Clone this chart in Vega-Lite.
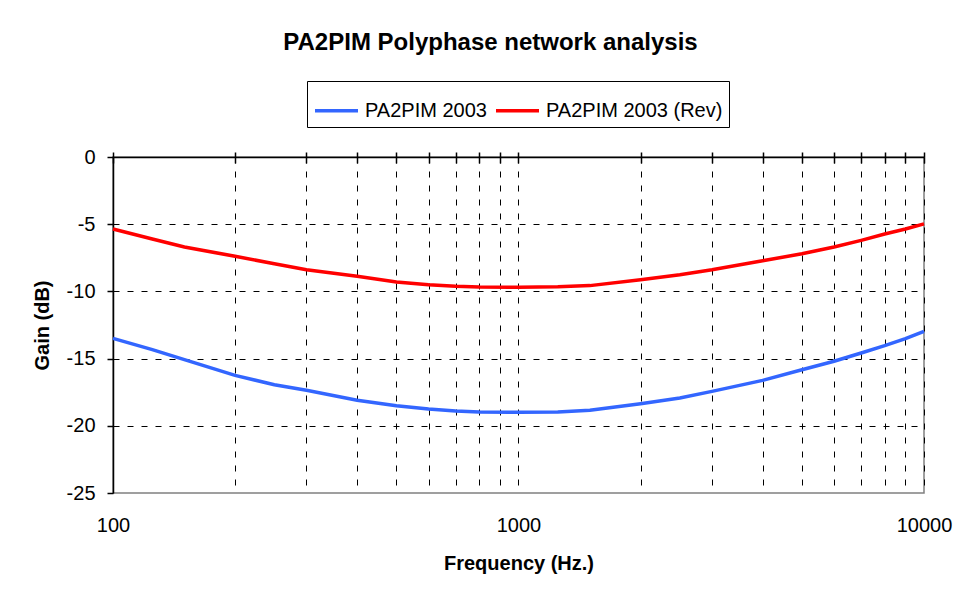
{
  "$schema": "https://vega.github.io/schema/vega-lite/v6.json",
  "width": 811,
  "height": 336,
  "autosize": "none",
  "padding": {"left": 113, "top": 157, "right": 36, "bottom": 106},
  "background": "white",
  "config": {
    "view": {"stroke": "#808080", "strokeWidth": 1.5},
    "font": "Liberation Sans"
  },
  "title": {
    "text": "PA2PIM Polyphase network analysis",
    "font": "Liberation Sans",
    "fontSize": 24,
    "fontWeight": "bold",
    "color": "#000000",
    "anchor": "middle",
    "frame": "group",
    "dx": -28,
    "baseline": "alphabetic",
    "offset": 7
  },
  "data": {
    "values": [
      {"f": 100, "series": "PA2PIM 2003", "gain": -13.5},
      {"f": 125, "series": "PA2PIM 2003", "gain": -14.33},
      {"f": 150, "series": "PA2PIM 2003", "gain": -15.08},
      {"f": 200, "series": "PA2PIM 2003", "gain": -16.25},
      {"f": 250, "series": "PA2PIM 2003", "gain": -16.94},
      {"f": 300, "series": "PA2PIM 2003", "gain": -17.36},
      {"f": 400, "series": "PA2PIM 2003", "gain": -18.1},
      {"f": 500, "series": "PA2PIM 2003", "gain": -18.5},
      {"f": 600, "series": "PA2PIM 2003", "gain": -18.75},
      {"f": 700, "series": "PA2PIM 2003", "gain": -18.9},
      {"f": 800, "series": "PA2PIM 2003", "gain": -18.97},
      {"f": 1000, "series": "PA2PIM 2003", "gain": -19.0},
      {"f": 1250, "series": "PA2PIM 2003", "gain": -18.97},
      {"f": 1500, "series": "PA2PIM 2003", "gain": -18.85},
      {"f": 2000, "series": "PA2PIM 2003", "gain": -18.36},
      {"f": 2500, "series": "PA2PIM 2003", "gain": -17.93},
      {"f": 3000, "series": "PA2PIM 2003", "gain": -17.44},
      {"f": 4000, "series": "PA2PIM 2003", "gain": -16.62},
      {"f": 5000, "series": "PA2PIM 2003", "gain": -15.83},
      {"f": 6000, "series": "PA2PIM 2003", "gain": -15.2},
      {"f": 7000, "series": "PA2PIM 2003", "gain": -14.58},
      {"f": 8000, "series": "PA2PIM 2003", "gain": -14.04},
      {"f": 9000, "series": "PA2PIM 2003", "gain": -13.52},
      {"f": 10000, "series": "PA2PIM 2003", "gain": -12.97},
      {"f": 100, "series": "PA2PIM 2003 (Rev)", "gain": -5.36},
      {"f": 125, "series": "PA2PIM 2003 (Rev)", "gain": -6.1},
      {"f": 150, "series": "PA2PIM 2003 (Rev)", "gain": -6.7},
      {"f": 200, "series": "PA2PIM 2003 (Rev)", "gain": -7.39},
      {"f": 250, "series": "PA2PIM 2003 (Rev)", "gain": -7.94},
      {"f": 300, "series": "PA2PIM 2003 (Rev)", "gain": -8.39},
      {"f": 400, "series": "PA2PIM 2003 (Rev)", "gain": -8.88},
      {"f": 500, "series": "PA2PIM 2003 (Rev)", "gain": -9.3},
      {"f": 600, "series": "PA2PIM 2003 (Rev)", "gain": -9.5},
      {"f": 700, "series": "PA2PIM 2003 (Rev)", "gain": -9.62},
      {"f": 800, "series": "PA2PIM 2003 (Rev)", "gain": -9.68},
      {"f": 1000, "series": "PA2PIM 2003 (Rev)", "gain": -9.7},
      {"f": 1250, "series": "PA2PIM 2003 (Rev)", "gain": -9.66},
      {"f": 1500, "series": "PA2PIM 2003 (Rev)", "gain": -9.57},
      {"f": 2000, "series": "PA2PIM 2003 (Rev)", "gain": -9.13},
      {"f": 2500, "series": "PA2PIM 2003 (Rev)", "gain": -8.76},
      {"f": 3000, "series": "PA2PIM 2003 (Rev)", "gain": -8.39},
      {"f": 4000, "series": "PA2PIM 2003 (Rev)", "gain": -7.72},
      {"f": 5000, "series": "PA2PIM 2003 (Rev)", "gain": -7.2},
      {"f": 6000, "series": "PA2PIM 2003 (Rev)", "gain": -6.7},
      {"f": 7000, "series": "PA2PIM 2003 (Rev)", "gain": -6.2},
      {"f": 8000, "series": "PA2PIM 2003 (Rev)", "gain": -5.73},
      {"f": 9000, "series": "PA2PIM 2003 (Rev)", "gain": -5.36},
      {"f": 10000, "series": "PA2PIM 2003 (Rev)", "gain": -4.98}
    ]
  },
  "resolve": {"axis": {"x": "independent", "y": "independent"}},
  "layer": [
    {
      "mark": {"type": "line", "opacity": 0},
      "encoding": {
        "x": {"field": "f", "type": "quantitative", "scale": {"type": "log", "domain": [100, 10000], "nice": false},
          "axis": {"orient": "bottom", "values": [100,200,300,400,500,600,700,800,900,1000,2000,3000,4000,5000,6000,7000,8000,9000,10000],
            "grid": true, "gridColor": "#000000", "gridDash": [6, 8], "gridWidth": 1,
            "domain": false, "ticks": false, "labels": false, "title": null, "zindex": 0}},
        "y": {"field": "gain", "type": "quantitative", "scale": {"domain": [-25, 0], "nice": false},
          "axis": {"orient": "left", "values": [-20, -15, -10, -5], "grid": true, "gridColor": "#000000", "gridDash": [6, 8], "gridWidth": 1,
            "domain": false, "ticks": false, "labels": false, "title": null, "zindex": 0}},
        "detail": {"field": "series"}
      }
    },
    {
      "mark": {"type": "line", "strokeWidth": 3.5},
      "encoding": {
        "x": {"field": "f", "type": "quantitative", "scale": {"type": "log", "domain": [100, 10000], "nice": false},
          "axis": {"orient": "bottom", "values": [100, 1000, 10000], "labelExpr": "'' + datum.value", "labelFlush": false, "labelOverlap": false, "grid": false, "domain": false, "ticks": false,
            "labelFontSize": 20, "labelColor": "#000000", "labelPadding": 22, "labelFont": "Liberation Sans",
            "title": "Frequency (Hz.)", "titleFontSize": 20, "titleFont": "Liberation Sans", "titleFontWeight": "bold", "titleColor": "#000000", "titlePadding": 18}},
        "y": {"field": "gain", "type": "quantitative", "scale": {"domain": [-25, 0], "nice": false},
          "axis": {"orient": "left", "values": [-25, -20, -15, -10, -5, 0], "labelExpr": "'' + datum.value", "labelFlush": false, "labelOverlap": false, "grid": false, "domain": true, "domainColor": "#000000", "domainWidth": 1.5,
            "ticks": true, "tickColor": "#000000", "tickSize": 6, "tickWidth": 1.5,
            "labelFontSize": 20, "labelColor": "#000000", "labelPadding": 12, "labelFont": "Liberation Sans",
            "title": "Gain (dB)", "titleFontSize": 20, "titleFont": "Liberation Sans", "titleFontWeight": "bold", "titleColor": "#000000", "titlePadding": 14}},
        "color": {"field": "series", "type": "nominal", "title": null,
          "scale": {"domain": ["PA2PIM 2003", "PA2PIM 2003 (Rev)"], "range": ["#3366FF", "#FF0000"]},
          "legend": {"orient": "none", "legendX": 194, "legendY": -76, "direction": "horizontal", "columns": 2,
            "symbolType": "stroke", "symbolSize": 1849, "symbolStrokeWidth": 3.5, "labelFontSize": 20, "labelFont": "Liberation Sans", "labelColor": "#000000", "labelLimit": 400,
            "strokeColor": "#000000", "fillColor": "#ffffff", "padding": 6, "columnPadding": 2, "labelOffset": 5, "symbolOffset": 0}}
      }
    },
    {
      "mark": {"type": "line", "opacity": 0},
      "encoding": {
        "x": {"field": "f", "type": "quantitative", "scale": {"type": "log", "domain": [100, 10000], "nice": false},
          "axis": {"orient": "top", "values": [100,200,300,400,500,600,700,800,900,1000,2000,3000,4000,5000,6000,7000,8000,9000,10000],
            "grid": false, "domain": true, "domainColor": "#000000", "domainWidth": 1.5, "ticks": true, "tickColor": "#000000", "tickSize": 5, "tickWidth": 1.5,
            "labels": false, "title": null}},
        "y": {"field": "gain", "type": "quantitative", "scale": {"domain": [-25, 0], "nice": false}, "axis": null},
        "detail": {"field": "series"}
      }
    },
    {
      "mark": {"type": "line", "opacity": 0},
      "encoding": {
        "x": {"field": "f", "type": "quantitative", "scale": {"type": "log", "domain": [100, 10000], "nice": false},
          "axis": {"orient": "top", "offset": -6, "values": [100,200,300,400,500,600,700,800,900,1000,2000,3000,4000,5000,6000,7000,8000,9000,10000],
            "grid": false, "domain": false, "ticks": true, "tickColor": "#000000", "tickSize": 6, "tickWidth": 1.5,
            "labels": false, "title": null}},
        "y": {"field": "gain", "type": "quantitative", "scale": {"domain": [-25, 0], "nice": false}, "axis": null},
        "detail": {"field": "series"}
      }
    }
  ]
}
